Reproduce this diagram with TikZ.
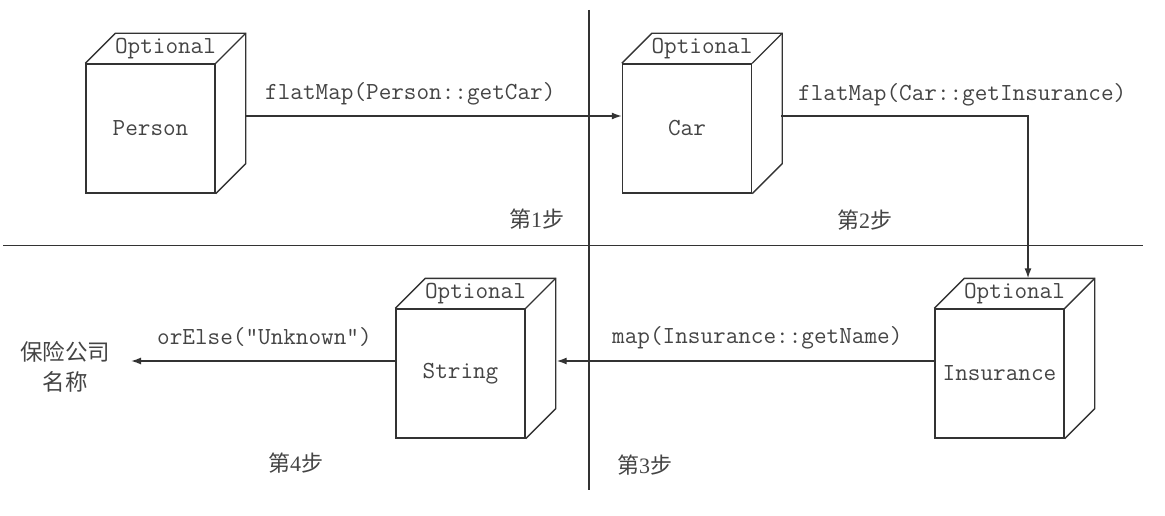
\documentclass[tikz,border=0pt]{standalone}
\usepackage{fontspec}
\setmainfont{Liberation Serif}
\newfontfamily\cjk{Noto Sans CJK SC}
\usetikzlibrary{arrows.meta,calc}
\definecolor{lc}{HTML}{333333}
\definecolor{tc}{HTML}{444444}
\newcommand\cubeback[1]{%
  \draw[ln, line join=miter] (#1.north west) -- ++(30,-30) -- ($(#1.north east)+(30,-30)$) -- ($(#1.south east)+(30,-30)$) -- (#1.south east);
  \draw[ln] (#1.north east) -- ++(30,-30);}
\newcommand\stepname[1]{{\cjk 第}#1{\cjk 步}}
\begin{document}
\begin{tikzpicture}[x=1pt,y=-1pt,
  ln/.style={draw=lc, line width=1.4pt},
  mono/.style={font=\fontsize{24.5}{26}\ttfamily, text=tc},
  face/.style={ln, mono, minimum width=129pt, minimum height=129pt, inner sep=0pt},
  lid/.style={mono, inner sep=0pt},
  lbl/.style={mono, inner sep=0pt, anchor=west},
  steplbl/.style={font=\fontsize{22}{24}\selectfont, text=tc, inner sep=0pt, anchor=west},
  arr/.style={ln, -{Latex[length=10pt,width=7pt]}},
]
\useasboundingbox (0,0) rectangle (1165,516);
% dividers
\draw[ln] (589,10) -- (589,490);
\draw[ln] (3,245.5) -- (1143,245.5);
% boxes
\node[face] (p) at (150.5,128.5) {Person};
\node[face] (c) at (687,128.5) {Car};
\node[face] (i) at (999.5,373.5) {Insurance};
\node[face] (s) at (460.5,373.5) {String};
\cubeback{p}\cubeback{c}\cubeback{i}\cubeback{s}
\node[lid] (pt) at ($(p.north)+(15,-15)$) {Optional};
\node[lid] (ct) at ($(c.north)+(15,-15)$) {Optional};
\node[lid] (it) at ($(i.north)+(15,-15)$) {Optional};
\node[lid] (st) at ($(s.north)+(15,-15)$) {Optional};
% result
\node[font=\fontsize{22.5}{30}\selectfont\cjk, text=tc, align=center, inner sep=0pt] (res) at (65,367) {保险公司\\名称};
\coordinate (out) at (131,361);
% connectors
\draw[arr] ($(p.east)+(30,-12.5)$) -- ($(c.west)+(0,-12.5)$);
\draw[arr] ($(c.east)+(29,-12.5)$) -| ($(i.north)+(28.5,-30)$);
\draw[arr] ($(i.west)+(0,-12.5)$) -- ($(s.east)+(31,-12.5)$);
\draw[arr] ($(s.west)+(0,-12.5)$) -- (out);
% labels
\node[lbl] (l1) at (265,94) {flatMap(Person::getCar)};
\node[lbl] (l2) at (798,95) {flatMap(Car::getInsurance)};
\node[lbl] (l3) at (612,338) {map(Insurance::getName)};
\node[lbl] (l4) at (157,337) {orElse("Unknown")};
\node[steplbl] (s1) at (509,219) {\stepname{1}};
\node[steplbl] (s2) at (837,220) {\stepname{2}};
\node[steplbl] (s3) at (617,465) {\stepname{3}};
\node[steplbl] (s4) at (268,463) {\stepname{4}};
\end{tikzpicture}
\end{document}
